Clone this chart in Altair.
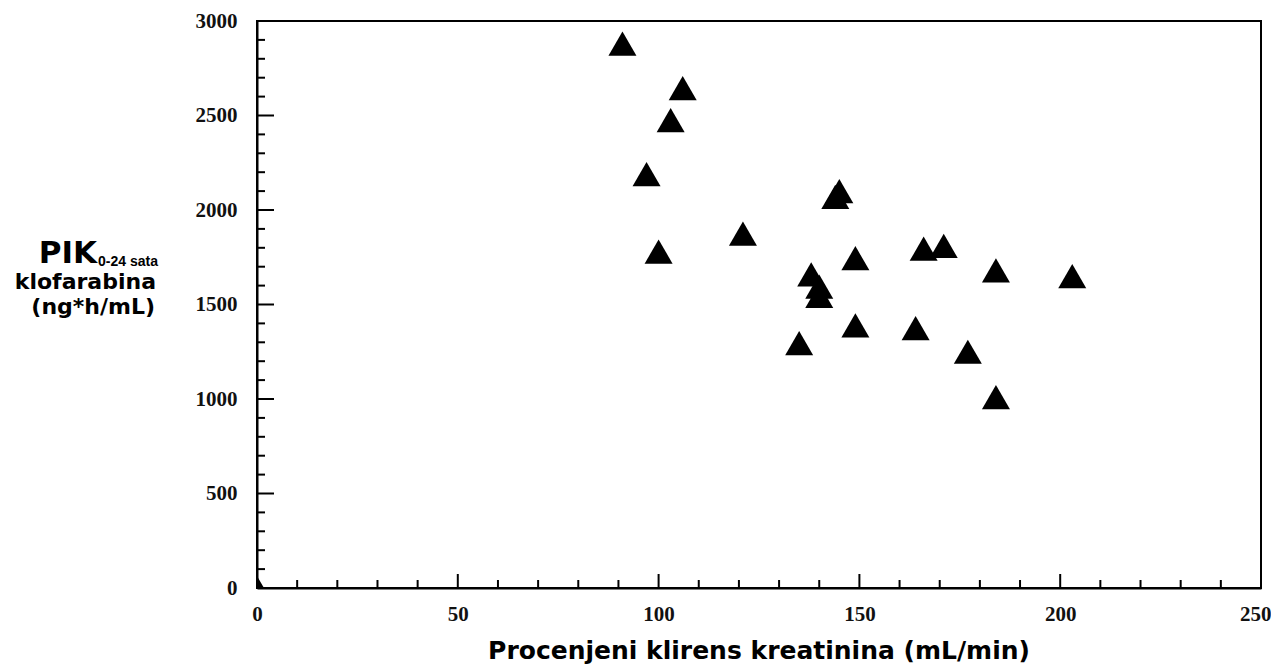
import altair as alt
import pandas as pd

# Data
clearance = [0, 91, 106, 103, 97, 100, 121, 145, 144, 149, 166, 171, 184, 203,
             138, 140, 140, 149, 135, 164, 177, 184]
auc = [0, 2880, 2645, 2475, 2190, 1780, 1875, 2100, 2070, 1745, 1795, 1810, 1680, 1650,
       1660, 1595, 1545, 1390, 1295, 1375, 1250, 1010]

x_labels = [0, 50, 100, 150, 200, 250]
y_labels = [0, 500, 1000, 1500, 2000, 2500, 3000]
x_major = [50, 100, 150, 200]
x_minor = [10, 20, 30, 40, 60, 70, 80, 90, 110, 120, 130, 140, 160, 170, 180, 190,
           210, 220, 230, 240]
y_major = [500, 1000, 1500, 2000, 2500]
y_minor = [100, 200, 300, 400, 600, 700, 800, 900, 1100, 1200, 1300, 1400, 1600, 1700,
           1800, 1900, 2100, 2200, 2300, 2400, 2600, 2700, 2800, 2900]

x_title = "Procenjeni klirens kreatinina (mL/min)"
y_title_main = "PIK"
y_title_sub = "0-24 sata"
y_title_line2 = "klofarabina"
y_title_line3 = "(ng*h/mL)"

W, H = 1004, 567
xs = alt.Scale(domain=[0, 250], nice=False, zero=False)
ys = alt.Scale(domain=[0, 3000], nice=False, zero=False)

label_font = "Liberation Serif"
title_font = "DejaVu Sans"

x_axis = alt.Axis(values=x_labels, title=None, ticks=False, tickSize=0, grid=False,
                  format="d",
                  labelFont=label_font, labelFontWeight="bold", labelFontSize=21,
                  labelColor="#111111", labelPadding=15, labelFlush=False,
                  labelAlign=alt.expr("datum.value == 250 ? 'right' : 'center'"),
                  labelOffset=alt.expr("datum.value == 250 ? 10 : 0"),
                  labelOverlap=False, domainColor="black", domainWidth=2)
y_axis = alt.Axis(values=y_labels, title=None, ticks=False, tickSize=0, grid=False,
                  format="d",
                  labelFont=label_font, labelFontWeight="bold", labelFontSize=21,
                  labelColor="#111111", labelPadding=20, labelFlush=False,
                  labelOverlap=False, domainColor="black", domainWidth=2)

points = alt.Chart(pd.DataFrame({"x": clearance, "y": auc})).mark_point(
    shape="triangle-up", filled=True, size=784, color="black", opacity=1, clip=True
).encode(
    x=alt.X("x:Q", scale=xs, axis=x_axis),
    y=alt.Y("y:Q", scale=ys, axis=y_axis),
)


def xticks(vals, length):
    return alt.Chart(pd.DataFrame({"x": vals})).mark_rule(color="black", strokeWidth=2).encode(
        x=alt.X("x:Q", scale=xs, axis=x_axis),
        y=alt.value(H), y2=alt.value(H - length),
    )


def yticks(vals, length):
    return alt.Chart(pd.DataFrame({"y": vals})).mark_rule(color="black", strokeWidth=2).encode(
        y=alt.Y("y:Q", scale=ys, axis=y_axis),
        x=alt.value(0), x2=alt.value(length),
    )


def text(s, x, y, size, align, font=title_font):
    return alt.Chart(pd.DataFrame({"t": [s]})).mark_text(
        font=font, fontWeight="bold", fontSize=size, align=align,
        baseline="alphabetic", color="black"
    ).encode(text="t:N", x=alt.value(x), y=alt.value(y))


layers = [
    points,
    xticks(x_major, 14), xticks(x_minor, 8),
    yticks(y_major, 17), yticks(y_minor, 8),
    text(y_title_main, -160, 242, 31, "right"),
    text(y_title_sub, -159, 245, 14, "left", "Liberation Sans"),
    text(y_title_line2, -101, 268, 22, "right"),
    text(y_title_line3, -102, 293, 22, "right"),
    text(x_title, W / 2, 638, 25, "center"),
]

chart = alt.layer(*layers).properties(
    width=W, height=H,
    autosize=alt.AutoSizeParams(type="none"),
    padding={"left": 249, "top": 13, "right": 10, "bottom": 80},
    background="white",
).configure_view(stroke="black", strokeWidth=2)

chart.save("out.html", embed_options={"renderer": "svg", "actions": False})
